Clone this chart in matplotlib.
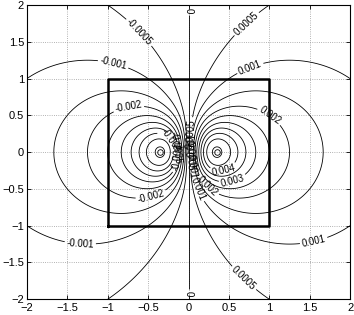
import numpy as np
import matplotlib
matplotlib.use("Agg")
import matplotlib.pyplot as plt
from matplotlib.ticker import FuncFormatter

plt.rcParams['font.family'] = ['Liberation Sans', 'DejaVu Sans']

# field parameters (2-D dipole far field, smoothed core)
dipole_k = 0.0025          # x/r^2 strength: 0.0005 contour passes (1, 2)
core_a = 0.3125            # puts the extrema at x = +-0.35
pole_x = [-0.35, 0.35]
pole_y = [0.0, 0.0]

levels = [-0.005, -0.0045, -0.004, -0.0035, -0.003, -0.0025, -0.002, -0.0015,
          -0.001, -0.0005, 0.0, 0.0005, 0.001, 0.0015, 0.002, 0.0025, 0.003,
          0.0035, 0.004, 0.0045, 0.005]

box_x = [-1, 1, 1, -1, -1]
box_y = [-1, -1, 1, 1, -1]

ticks = [-2, -1.5, -1, -0.5, 0, 0.5, 1, 1.5, 2]

# where the contour labels sit
label_pos = [(-0.6, 1.64), (0.73, 1.73), (-0.93, 1.21), (0.74, 1.21),
             (-1.34, -1.25), (1.55, -1.21), (0.67, -1.73),
             (0.0, 1.93), (0.0, -1.93),
             (-0.74, 0.6), (-0.47, -0.57), (0.99, 0.47),
             (0.23, -0.47), (0.11, -0.5), (0.54, -0.36), (0.44, -0.27),
             (-0.22, 0.16), (-0.18, 0.05), (-0.14, -0.07),
             (0.02, 0.25), (0.03, 0.1), (0.02, -0.05), (0.03, -0.2)]

x = np.linspace(-2, 2, 601)
y = np.linspace(-2, 2, 601)
X, Y = np.meshgrid(x, y)
R2 = X**2 + Y**2
R2[R2 == 0] = 1e-12
Z = dipole_k * X / R2 * (1 - np.exp(-R2 / core_a**2))

fig = plt.figure(figsize=(3.54, 3.15), dpi=100)
ax = fig.add_axes([0.076, 0.05, 0.913, 0.934])

cs = ax.contour(X, Y, Z, levels=levels, colors='k', linewidths=0.6,
                linestyles='solid')
ax.clabel(cs, fmt='%g', fontsize=7, inline=True, inline_spacing=2,
          manual=label_pos)

ax.plot(box_x, box_y, color='k', lw=1.8)
ax.plot(pole_x, pole_y, 'o', ms=4, mfc='none', mec='k', mew=0.6)

ax.set_xlim(-2, 2)
ax.set_ylim(-2, 2)
ax.set_xticks(ticks)
ax.set_yticks(ticks)
fmt = FuncFormatter(lambda v, p: ('%g' % v).replace('-', '\u2212'))
ax.xaxis.set_major_formatter(fmt)
ax.yaxis.set_major_formatter(fmt)
ax.tick_params(direction='in', top=True, right=True, labelsize=8, length=3,
               width=0.6)
ax.tick_params(axis='x', pad=3)
ax.tick_params(axis='y', pad=2)
ax.grid(True, linestyle=':', color='0.6', linewidth=0.6)
for s in ax.spines.values():
    s.set_linewidth(0.8)

fig.savefig('out.png', dpi=100)
